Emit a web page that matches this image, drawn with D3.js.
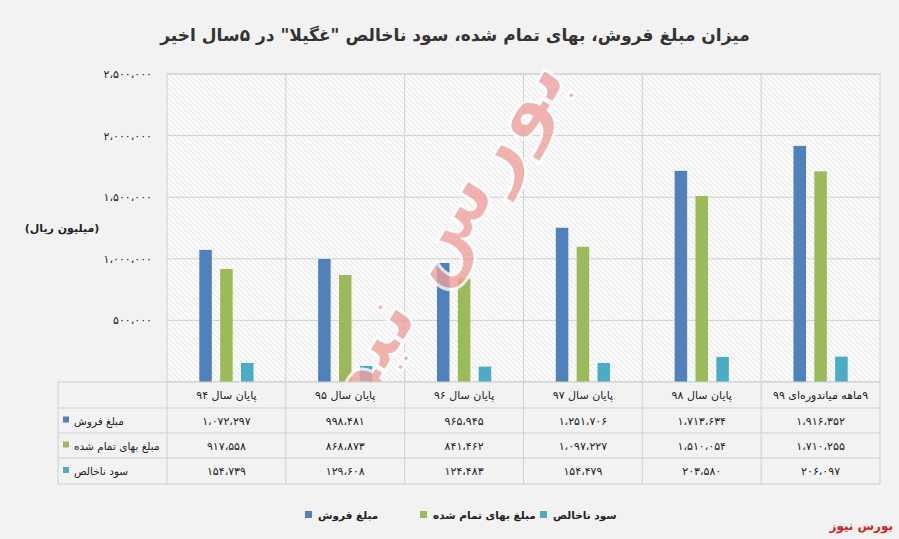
<!DOCTYPE html>
<html><head><meta charset="utf-8">
<script src="https://cdn.jsdelivr.net/npm/d3@7"></script>
<style>body{margin:0;background:#f2f2f2}svg{display:block;font-family:"DejaVu Sans",Tahoma,sans-serif}</style>
</head><body><svg id="c" width="899" height="539"></svg>
<script>
const title = 'میزان مبلغ فروش، بهای تمام شده، سود ناخالص "غگیلا" در ۵سال اخیر';
const categories = ['پایان سال ۹۴','پایان سال ۹۵','پایان سال ۹۶','پایان سال ۹۷','پایان سال ۹۸','۹ماهه میاندوره‌ای ۹۹'];
const seriesNames = ['مبلغ فروش','مبلغ بهای تمام شده','سود ناخالص'];
const sales = [1072297, 998481, 965945, 1251706, 1713634, 1916352];
const cost = [917558, 868873, 841462, 1097227, 1510054, 1710255];
const gross = [154739, 129608, 124483, 154479, 203580, 206097];
const yTicks = [0, 500000, 1000000, 1500000, 2000000, 2500000];
const colors = ['#4f81bd','#9bbb59','#4bacc6'];
const series = [sales, cost, gross];

const fa = n => String(n).replace(/\B(?=(\d{3})+(?!\d))/g,'،').replace(/\d/g,d=>'۰۱۲۳۴۵۶۷۸۹'[d]);
const svg = d3.select('#c');
const L=167,R=880,T=74,B=382;
const defs=svg.append('defs');
const p=defs.append('pattern').attr('id','h').attr('patternUnits','userSpaceOnUse').attr('width',5).attr('height',5);
p.append('rect').attr('width',5).attr('height',5).attr('fill','#fbfbfb');
p.append('path').attr('d','M0,0L5,5M-1,4L1,6M4,-1L6,1').attr('stroke','#d8d8d8').attr('stroke-width',0.7);
svg.append('rect').attr('x',L).attr('y',T).attr('width',R-L).attr('height',B-T).attr('fill','url(#h)').attr('stroke','#d0d0d0');

svg.append('text').attr('x',455).attr('y',41).attr('text-anchor','middle').attr('font-size',17).attr('font-weight','bold').attr('fill','#333').attr('direction','rtl').text(title);

const y=d3.scaleLinear().domain([0,2500000]).range([B,T]);
const x=d3.scaleBand().domain(categories).range([L,R]);
const xs=d3.scaleBand().domain([0,1,2]).range([0,x.bandwidth()]).paddingInner(0.4).paddingOuter(1.55);

svg.append('g').selectAll('line').data(yTicks).join('line').attr('x1',L).attr('x2',R).attr('y1',d=>y(d)).attr('y2',d=>y(d)).attr('stroke','#d0d0d0');
svg.append('g').selectAll('line').data(categories.slice(1)).join('line').attr('x1',d=>x(d)).attr('x2',d=>x(d)).attr('y1',T).attr('y2',B).attr('stroke','#d0d0d0');
svg.append('g').selectAll('text').data(yTicks).join('text').attr('x',152).attr('y',d=>y(d)+4).attr('text-anchor','end').attr('font-size',11).attr('fill','#222').text(d=>fa(d));
svg.append('text').attr('x',62).attr('y',232).attr('text-anchor','middle').attr('font-size',11).attr('font-weight','bold').attr('direction','rtl').attr('fill','#222').text('(میلیون ریال)');

series.forEach((s,i)=>{
 svg.append('g').selectAll('rect').data(s).join('rect')
  .attr('x',(d,j)=>x(categories[j])+xs(i)).attr('width',xs.bandwidth())
  .attr('y',d=>y(d)).attr('height',d=>B-y(d)).attr('fill',colors[i]);
});

const wm=svg.append('g').attr('transform','translate(430,255) rotate(-58)').attr('opacity',0.8);
wm.append('text').attr('text-anchor','middle').attr('dominant-baseline','middle').attr('font-size',85).attr('font-weight','bold').attr('fill','#f0a09c').attr('stroke','#fff').attr('stroke-width',3).attr('direction','rtl').text('بورس نیوز');

const tL=58, rows=[B,408,433,458,484];
const tg=svg.append('g');
tg.append('rect').attr('x',tL).attr('y',B).attr('width',R-tL).attr('height',484-B).attr('fill','#f2f2f2').attr('stroke','#d0d0d0');
rows.slice(1,4).forEach(r=>tg.append('line').attr('x1',tL).attr('x2',R).attr('y1',r).attr('y2',r).attr('stroke','#d0d0d0'));
[L,...categories.slice(1).map(c=>x(c))].forEach(v=>tg.append('line').attr('x1',v).attr('x2',v).attr('y1',B).attr('y2',484).attr('stroke','#d0d0d0'));
categories.forEach(c=>tg.append('text').attr('x',x(c)+x.bandwidth()/2).attr('y',399).attr('text-anchor','middle').attr('font-size',11).attr('direction','rtl').attr('fill','#222').text(c));
series.forEach((s,i)=>{
 const cy=(rows[i+1]+rows[i+2])/2;
 tg.append('rect').attr('x',63).attr('y',cy-4).attr('width',6).attr('height',6).attr('fill',colors[i]);
 tg.append('text').attr('x',74).attr('y',cy+4).attr('text-anchor','end').attr('font-size',10.5).attr('direction','rtl').attr('fill','#222').text(seriesNames[i]);
 s.forEach((v,j)=>tg.append('text').attr('x',x(categories[j])+x.bandwidth()/2).attr('y',cy+4).attr('text-anchor','middle').attr('font-size',11).attr('fill','#222').text(fa(v)));
});

const sqx=[305,420,540];
seriesNames.forEach((n,i)=>{
 svg.append('rect').attr('x',sqx[i]).attr('y',511).attr('width',7).attr('height',7).attr('fill',colors[i]);
 svg.append('text').attr('x',sqx[i]+13).attr('y',519).attr('text-anchor','end').attr('font-size',10.5).attr('font-weight','bold').attr('direction','rtl').attr('fill','#222').text(n);
});
svg.append('text').attr('x',893).attr('y',530).attr('text-anchor','start').attr('font-size',12).attr('font-weight','bold').attr('fill','#d62020').attr('direction','rtl').text('بورس نیوز');
</script></body></html>
